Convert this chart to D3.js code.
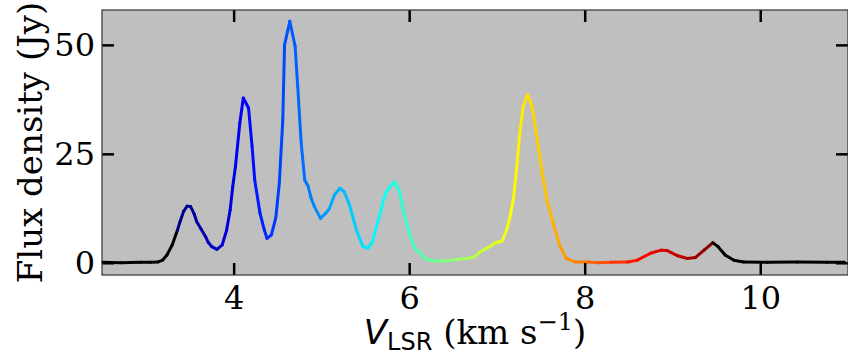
<!DOCTYPE html>
<html>
<head>
<meta charset="utf-8">
<script src="https://cdn.jsdelivr.net/npm/d3@7"></script>
<style>
  html, body { margin: 0; padding: 0; background: #fff; }
  svg text { fill: #000; }
</style>
</head>
<body>
<div id="chart"></div>
<script>
// spectrum: velocity (km/s) and flux density (Jy)
const velocity = [2.51, 2.71, 2.94, 3.05, 3.14, 3.19, 3.24, 3.30, 3.36, 3.39, 3.43, 3.47, 3.51, 3.55,
  3.58, 3.63, 3.68, 3.71, 3.75, 3.81, 3.87, 3.92, 3.96, 3.99, 4.02, 4.07, 4.11, 4.17, 4.21, 4.24,
  4.30, 4.35, 4.38, 4.43, 4.48, 4.52, 4.56, 4.58, 4.64, 4.70, 4.73, 4.77, 4.81, 4.85, 4.88, 4.92,
  4.99, 5.05, 5.09, 5.15, 5.21, 5.26, 5.32, 5.40, 5.47, 5.53, 5.58, 5.66, 5.73, 5.77, 5.83, 5.89,
  5.94, 6.00, 6.07, 6.11, 6.17, 6.23, 6.30, 6.40, 6.49, 6.56, 6.64, 6.73, 6.81, 6.87, 6.92, 6.98,
  7.06, 7.11, 7.15, 7.19, 7.23, 7.26, 7.30, 7.35, 7.40, 7.45, 7.51, 7.57, 7.64, 7.72, 7.79, 7.89,
  8.04, 8.15, 8.30, 8.49, 8.60, 8.75, 8.87, 8.94, 9.06, 9.17, 9.26, 9.36, 9.46, 9.52, 9.60, 9.70,
  9.81, 10.08, 10.42, 10.76, 10.96];
const flux = [0.1, 0.0, 0.1, 0.1, 0.2, 0.6, 1.8, 4.1, 7.5, 9.5, 11.8, 13.0, 12.9, 11.2,
  9.4, 7.7, 6.0, 4.7, 3.7, 3.1, 4.1, 7.5, 12.1, 17.5, 22.0, 32.0, 37.8, 35.5, 26.7, 19.0,
  11.4, 7.5, 5.6, 6.4, 10.3, 18.2, 32.8, 50.0, 55.4, 49.7, 40.5, 27.4, 19.0, 17.5, 15.0, 12.9,
  10.2, 11.4, 12.4, 15.6, 17.1, 16.3, 13.3, 7.5, 3.8, 3.3, 4.8, 10.6, 16.0, 17.1, 18.6, 16.3,
  11.4, 6.8, 3.1, 2.6, 1.1, 0.6, 0.4, 0.4, 0.6, 0.8, 1.0, 1.2, 2.5, 3.2, 3.7, 4.6,
  5.0, 7.5, 10.6, 15.0, 22.9, 29.7, 35.9, 38.6, 35.9, 29.7, 21.3, 14.4, 9.1, 3.7, 1.0, 0.2,
  0.2, 0.0, 0.1, 0.2, 0.6, 2.2, 2.9, 2.8, 1.6, 1.0, 1.2, 2.9, 4.6, 3.7, 1.8, 0.6,
  0.2, 0.1, 0.2, 0.1, 0.1];
const xTicks = [4, 6, 8, 10];
const yTicks = [0, 25, 50];
const colourRange = [3.37, 9.46]; // velocities coloured with the jet map, black outside

const W = 848, H = 356;
const margin = { top: 10, right: 0, bottom: 81, left: 102 };
const width = W - margin.left - margin.right,
  height = H - margin.top - margin.bottom;

// matplotlib "jet"
function jet(t) {
  const c = v => Math.max(0, Math.min(1, v));
  const r = c(1.5 - Math.abs(4 * t - 3)),
    g = c(1.5 - Math.abs(4 * t - 2)),
    b = c(1.5 - Math.abs(4 * t - 1));
  return d3.rgb(r * 255, g * 255, b * 255).formatHex();
}

const svg = d3.select("#chart").append("svg")
  .attr("width", W).attr("height", H);
const g = svg.append("g")
  .attr("transform", "translate(" + margin.left + "," + margin.top + ")");

const x = d3.scaleLinear().domain([2.5, 11]).range([0, width]);
const y = d3.scaleLinear().domain([-2.8, 58]).range([height, 0]);

g.append("rect")
  .attr("width", width).attr("height", height)
  .attr("fill", "#bfbfbf");

// the spectrum, one segment per channel step
const pts = velocity.map((v, i) => ({ v: v, f: flux[i] }));
const segs = d3.pairs(pts);
g.append("g")
  .selectAll("line")
  .data(segs)
  .join("line")
  .attr("x1", d => x(d[0].v)).attr("y1", d => y(d[0].f))
  .attr("x2", d => x(d[1].v)).attr("y2", d => y(d[1].f))
  .attr("stroke", d => {
    const m = (d[0].v + d[1].v) / 2;
    if (m < colourRange[0] || m > colourRange[1]) return "#000";
    return jet((m - colourRange[0]) / (colourRange[1] - colourRange[0]));
  })
  .attr("stroke-width", 3)
  .attr("stroke-linecap", "round");

// axes with inward ticks on every side
const tickLen = 12;
const font = "'DejaVu Serif', serif";
const axBottom = g.append("g")
  .attr("transform", "translate(0," + height + ")")
  .call(d3.axisBottom(x).tickValues(xTicks).tickSize(-tickLen).tickFormat(d3.format("d")));
const axTop = g.append("g")
  .call(d3.axisTop(x).tickValues(xTicks).tickSize(-tickLen).tickFormat(""));
const axLeft = g.append("g")
  .call(d3.axisLeft(y).tickValues(yTicks).tickSize(-tickLen).tickFormat(d3.format("d")));
const axRight = g.append("g")
  .attr("transform", "translate(" + width + ",0)")
  .call(d3.axisRight(y).tickValues(yTicks).tickSize(-tickLen).tickFormat(""));

[axBottom, axTop, axLeft, axRight].forEach(a => {
  a.select(".domain").remove();
  a.selectAll(".tick line").attr("stroke", "#000").attr("stroke-width", 2.5);
  a.selectAll(".tick text").style("font-family", font).style("font-size", "32px").attr("fill", "#000");
});
axBottom.selectAll(".tick text").attr("y", 11).attr("dy", "0.71em");
axLeft.selectAll(".tick text").attr("x", -7).attr("dy", "0.34em");

g.append("rect")
  .attr("width", width).attr("height", height)
  .attr("fill", "none").attr("stroke", "#333").attr("stroke-width", 1.2);

// axis titles
svg.append("text")
  .attr("transform", "translate(42," + (margin.top + height / 2) + ") rotate(-90)")
  .attr("text-anchor", "middle")
  .style("font-family", font).style("font-size", "34px")
  .text("Flux density (Jy)");

const xl = svg.append("text")
  .attr("x", margin.left + width / 2).attr("y", 344)
  .attr("text-anchor", "middle")
  .style("font-family", font).style("font-size", "34px");
xl.append("tspan").style("font-family", "'DejaVu Sans', sans-serif").style("font-style", "italic").text("V");
xl.append("tspan").style("font-family", "'DejaVu Sans', sans-serif").style("font-size", "24px").attr("dy", 6).text("LSR");
xl.append("tspan").attr("dy", -6).text(" (km s");
xl.append("tspan").style("font-size", "24px").attr("dy", -14).text("\u22121");
xl.append("tspan").attr("dy", 14).text(")");
</script>
</body>
</html>
